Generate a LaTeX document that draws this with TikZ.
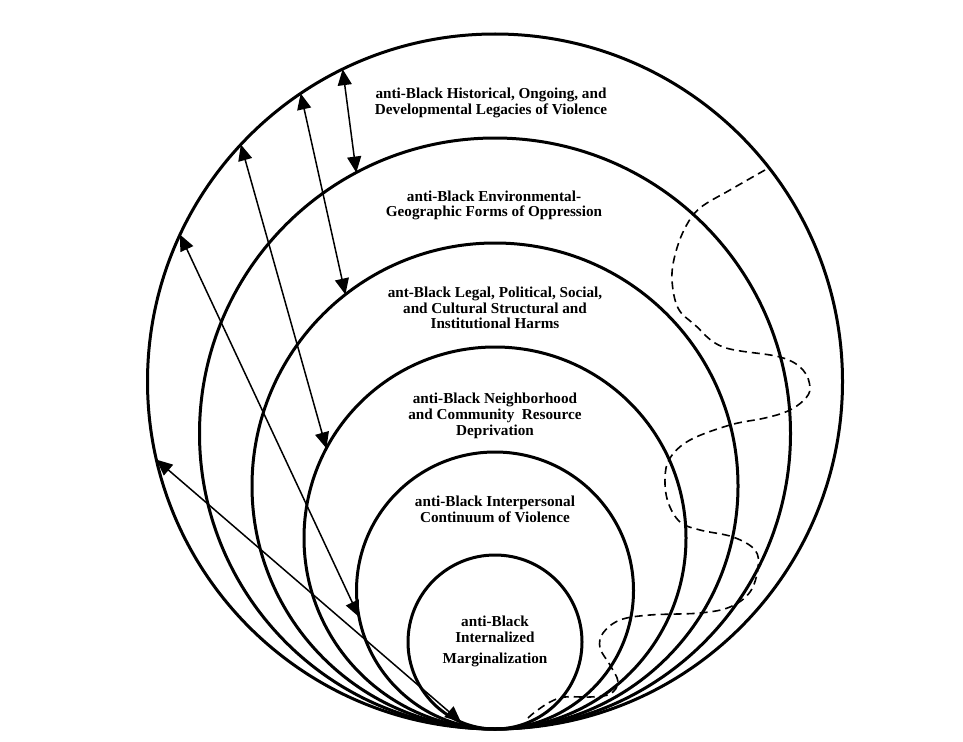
\documentclass[tikz,border=0pt]{standalone}
\usepackage{fontspec}
\setmainfont{Liberation Serif}
\usetikzlibrary{arrows.meta}
\tikzset{
  ring/.style={draw, circle, line width=3pt, inner sep=0pt, outer sep=0pt},
  lbl/.style={align=center, font=\fontsize{15.2}{15.8}\selectfont\bfseries},
  dbl/.style={line width=1.5pt, {Triangle[length=16pt,width=14pt]}-{Triangle[length=16pt,width=14pt]}},
  wave/.style={line width=1.6pt, dash pattern=on 8pt off 5pt}
}
\begin{document}
\begin{tikzpicture}[x=1pt,y=1pt]
\useasboundingbox (0,0) rectangle (963,-741);
% nested circles, all tangent at the bottom
\node[ring, minimum size=695pt] (c1) at (495,-381.5) {};
\node[ring, minimum size=591pt] (c2) at (495,-433.5) {};
\node[ring, minimum size=486pt] (c3) at (495,-486) {};
\node[ring, minimum size=382pt] (c4) at (495,-538) {};
\node[ring, minimum size=277pt] (c5) at (495,-590.5) {};
\node[ring, minimum size=174pt] (c6) at (495,-642) {};
% labels
\node[lbl] (t1) at (491,-103) {anti-Black Historical, Ongoing, and\\Developmental Legacies of Violence};
\node[lbl] (t2) at (494,-205.5) {anti-Black Environmental-\\Geographic Forms of Oppression};
\node[lbl] (t3) at (495,-308) {ant-Black Legal, Political, Social,\\and Cultural Structural and\\Institutional Harms};
\node[lbl] (t4) at (495,-416) {anti-Black Neighborhood\\and Community\ \ Resource\\Deprivation};
\node[lbl] (t5) at (495,-509) {anti-Black Interpersonal\\Continuum of Violence};
\node[lbl] (t6) at (495,-641.5) {anti-Black\\Internalized\\[6pt]Marginalization};
% arrows
\draw[dbl] (c1.116) -- (c2.118.3);
\draw[dbl] (c1.124.5) -- (c3.128.8);
\draw[dbl] (c1.137.2) -- (c4.152.1);
\draw[dbl] (c1.155.6) -- (c5.191.1);
\draw[dbl] (c1.193.7) -- (c6.247);
% dashed wavy line
\draw[wave] plot[smooth, tension=0.6] coordinates {
(765,-170) (730,-190) (700,-208) (685,-228) (675,-255) (672,-280) (678,-308)
(695,-325) (723,-347) (780,-357) (803,-370) (810,-388) (804,-400) (788,-411)
(765,-418) (730,-425) (690,-440) (670,-458) (665,-478) (668,-502) (680,-522)
(700,-530) (733,-537) (755,-550) (758,-568) (750,-592) (730,-607) (700,-613)
(650,-615) (620,-620) (603,-633) (600,-648) (610,-665) (618,-682) (610,-694)
(590,-697) (565,-697) (550,-702) (535,-712) (528,-718)};
\end{tikzpicture}
\end{document}
